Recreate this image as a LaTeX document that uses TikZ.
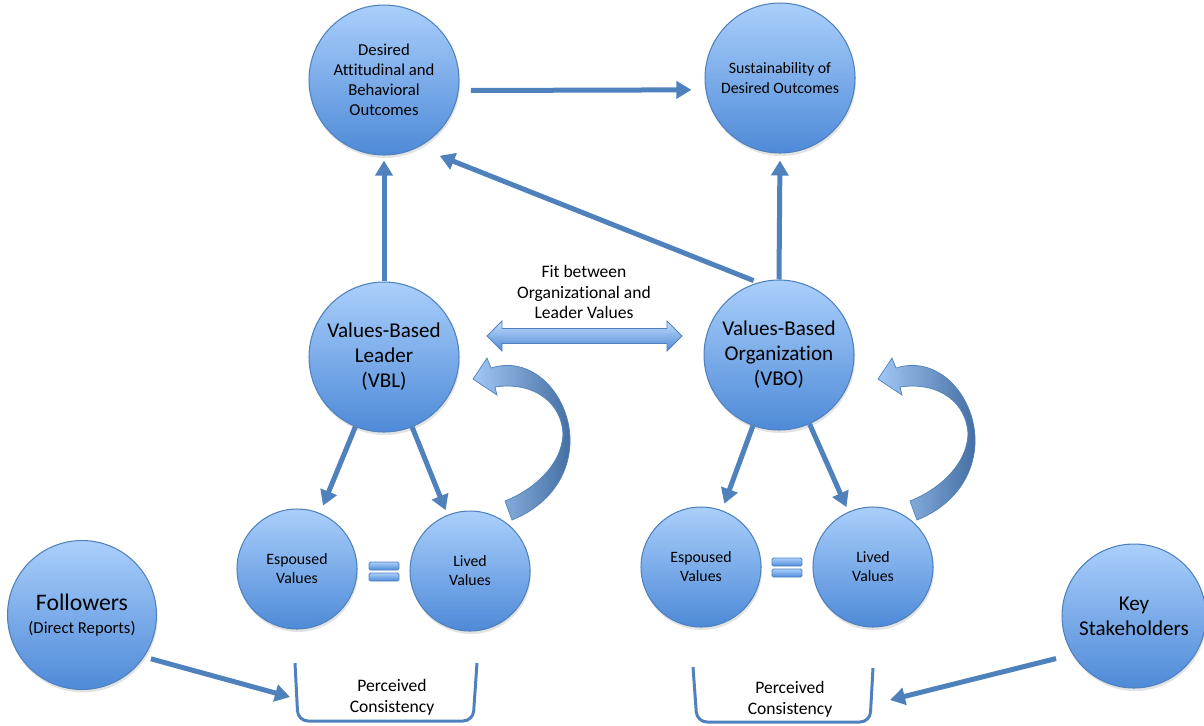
\documentclass[tikz,border=0pt]{standalone}
\usepackage{fontspec}
\setmainfont[Ligatures=NoCommon]{Carlito}
\usetikzlibrary{arrows.meta,shadows}
\definecolor{ballTop}{RGB}{170,207,251}
\definecolor{ballBot}{RGB}{78,138,216}
\definecolor{arrBlue}{RGB}{79,129,189}
\tikzset{
  ball/.style={circle, draw=arrBlue, line width=0.6pt, top color=ballTop, bottom color=ballBot,
    align=center, inner sep=0pt, drop shadow={opacity=0.22, shadow xshift=0.02cm, shadow yshift=-0.06cm}},
  bigball/.style={ball, minimum size=3cm},
  smallball/.style={ball, minimum size=2.4cm, font=\fontsize{9}{10.8}\selectfont},
  link/.style={draw=arrBlue, line width=0.1cm, -{Triangle[length=0.3cm,width=0.34cm]}},
  cup/.style={draw=arrBlue, line width=0.06cm, rounded corners=0.2cm},
  loopband/.style={draw=arrBlue, line width=0.4pt, left color=ballTop!90!arrBlue, right color=arrBlue!85!black},
  eqbar/.style={draw=arrBlue, line width=0.5pt, rounded corners=0.03cm, top color=ballTop, bottom color=ballBot},
  note/.style={align=center, font=\fontsize{10}{11.9}\selectfont}
}
\begin{document}
\begin{tikzpicture}[x=0.02cm, y=-0.02cm]
\useasboundingbox (0,0) rectangle (1204,725);

\node[bigball, font=\fontsize{9.5}{11.3}\selectfont] (des) at (384,80) {Desired\\Attitudinal and\\Behavioral\\Outcomes};
\node[bigball, font=\fontsize{9}{11.3}\selectfont] (sus) at (780,78) {Sustainability of\\Desired Outcomes};
\node[bigball, font=\fontsize{12}{14.2}\selectfont] (vbl) at (384,357) {Values-Based\\Leader\\(VBL)};
\node[bigball, font=\fontsize{12}{14.2}\selectfont] (vbo) at (779,355) {Values-Based\\Organization\\(VBO)};
\node[smallball] (espL) at (297,569) {Espoused\\Values};
\node[smallball] (livL) at (470,571) {Lived\\Values};
\node[smallball] (espR) at (701,567) {Espoused\\Values};
\node[smallball] (livR) at (873,567) {Lived\\Values};
\node[ball, minimum size=2.98cm, font=\fontsize{9.5}{13}\selectfont] (fol) at (82,615) {{\fontsize{13.5}{16}\selectfont Followers}\\(Direct Reports)};
\node[ball, minimum size=2.88cm, font=\fontsize{12}{14.2}\selectfont] (key) at (1134,616) {Key\\Stakeholders};

\node[note] (fit) at (584,292) {Fit between\\Organizational and\\Leader Values};
\node[note] (pcL) at (392,697) {Perceived\\Consistency};
\node[note] (pcR) at (790,699) {Perceived\\Consistency};
\coordinate (cupL) at (290,697);
\coordinate (cupR) at (890,700);

\draw[link, shorten <=0.24cm, shorten >=0.28cm] (des.-8) -- (sus.189);
\draw[link, shorten >=0.1cm] (vbl.north) -- (des.south);
\draw[link, shorten >=0.14cm] (vbo.north) -- (sus.south);
\draw[link, shorten <=0.1cm, shorten >=0.46cm] (vbo.106) -- (des.-63);
\draw[link, shorten >=0.16cm] (vbl) -- (espL);
\draw[link, shorten >=0.1cm] (vbl) -- (livL);
\draw[link, shorten >=0.14cm] (vbo) -- (espR);
\draw[link, shorten >=0.1cm] (vbo) -- (livR);
\draw[link, shorten <=0.14cm] (fol.-34) -- (cupL);
\draw[link, shorten <=0.34cm] (key.212) -- (cupR);

\draw[draw=arrBlue, line width=0.5pt, top color=ballTop!70!white, bottom color=ballBot]
  (487,336) -- (502,321) -- (502,328.5) -- (667,328.5) -- (667,321) -- (682,336)
  -- (667,351) -- (667,343.5) -- (502,343.5) -- (502,351) -- cycle;

\foreach \dx in {0,405}{
  \draw[loopband, shift={(\dx,-1)}] (473,380) -- (487,359) -- (491,369)
    .. controls (535,355) and (572,400) .. (570,445)
    .. controls (568,485) and (540,510) .. (512,521) -- (505,502)
    .. controls (535,490) and (562,465) .. (563,435)
    .. controls (562,405) and (535,382) .. (495,388) -- (497,396) -- cycle;
}

\draw[eqbar] (369,562) rectangle (399,570);
\draw[eqbar] (369,573) rectangle (399,581);
\draw[eqbar] (772,558) rectangle (802,566);
\draw[eqbar] (772,569) rectangle (802,577);

\draw[cup] (295,663) -- (298,721) -- (473,721) -- (477,663);
\draw[cup] (693,667) -- (697,722) -- (870,722) -- (873,668);
\end{tikzpicture}
\end{document}
